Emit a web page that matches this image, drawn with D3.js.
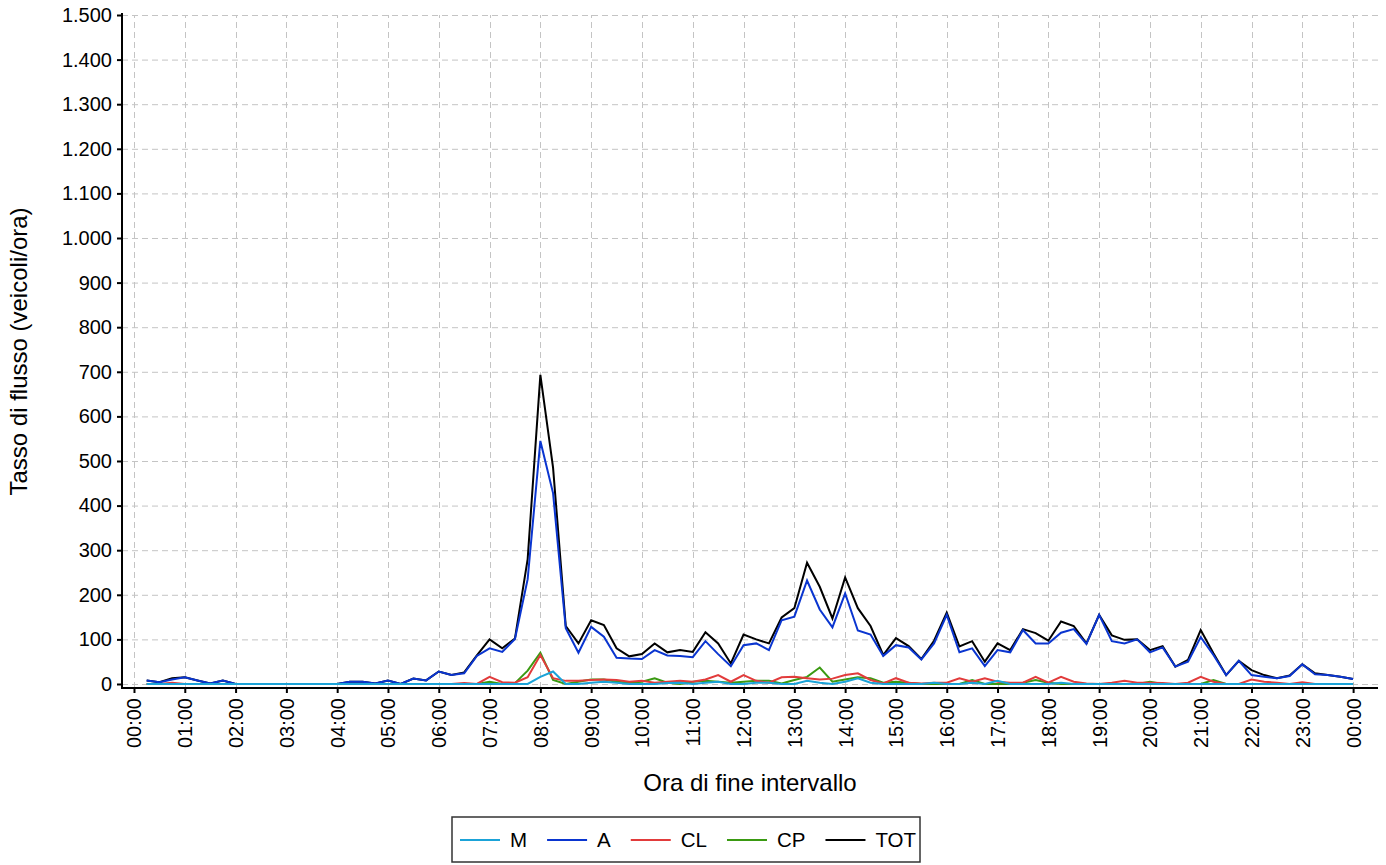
<!DOCTYPE html>
<html><head><meta charset="utf-8">
<script src="https://cdn.jsdelivr.net/npm/d3@7"></script>
<style>body{margin:0;background:#fff;} text{font-family:"Liberation Sans",Arial,sans-serif;fill:#000;}</style>
</head><body><svg id="c" width="1386" height="865"></svg>
<script>
// Interval end times (15-minute intervals)
const times = ["00:15","00:30","00:45","01:00","01:15","01:30","01:45","02:00","02:15","02:30","02:45","03:00",
"03:15","03:30","03:45","04:00","04:15","04:30","04:45","05:00","05:15","05:30","05:45","06:00",
"06:15","06:30","06:45","07:00","07:15","07:30","07:45","08:00","08:15","08:30","08:45","09:00",
"09:15","09:30","09:45","10:00","10:15","10:30","10:45","11:00","11:15","11:30","11:45","12:00",
"12:15","12:30","12:45","13:00","13:15","13:30","13:45","14:00","14:15","14:30","14:45","15:00",
"15:15","15:30","15:45","16:00","16:15","16:30","16:45","17:00","17:15","17:30","17:45","18:00",
"18:15","18:30","18:45","19:00","19:15","19:30","19:45","20:00","20:15","20:30","20:45","21:00",
"21:15","21:30","21:45","22:00","22:15","22:30","22:45","23:00","23:15","23:30","23:45","00:00"];

const M = [0,0,0,0,0,0,0,0,0,0,0,0, 0,0,0,0,0,0,0,0,0,0,0,0,
0,0,0,0,0,0,0,16,28,0,0,3, 5,3,0,0,0,2,3,0,3,5,0,0,
3,3,0,0,7,3,0,5,13,3,0,0, 0,0,3,0,0,3,0,7,0,0,0,0,
3,0,0,0,0,0,0,0,0,0,0,0, 0,0,0,0,0,0,0,0,0,0,0,0];

const A = [8,4,10,15,8,1,8,0,0,0,0,0, 0,0,0,0,5,5,1,8,0,12,8,28,
20,24,63,80,72,101,235,545,428,125,70,128, 106,59,57,56,76,64,63,60,96,67,40,87,
91,76,143,151,232,167,127,203,120,111,63,87, 82,55,91,155,71,80,40,76,71,121,91,91,
115,123,90,155,96,91,100,71,82,39,50,105, 65,20,52,20,16,13,18,44,22,20,16,11];

const CL = [0,0,3,0,0,0,0,0,0,0,0,0, 0,0,0,0,0,0,0,0,0,0,0,0,
0,2,0,16,4,3,15,65,13,7,7,9, 10,9,5,7,3,5,7,5,10,20,5,20,
7,3,15,16,13,10,12,20,24,9,1,13, 3,1,3,3,13,5,13,5,3,3,16,3,
16,5,1,0,3,7,3,3,2,0,3,16, 5,0,0,10,5,3,0,4,0,0,0,0];

const CP = [0,0,0,0,0,0,0,0,0,0,0,0, 0,0,0,0,0,0,0,0,0,0,0,0,
0,0,0,5,0,2,30,70,9,0,5,10, 10,5,3,5,13,3,0,5,7,5,3,5,
7,7,1,9,16,37,5,10,15,13,3,5, 3,0,0,0,0,9,0,0,0,3,9,3,
0,0,0,0,0,0,0,5,0,0,0,0, 9,0,0,0,0,0,0,0,0,0,0,0];

const TOT = [8,4,13,15,8,1,8,0,0,0,0,0, 0,0,0,0,5,5,1,8,0,12,8,28,
20,26,64,100,80,102,280,693,485,130,91,143, 132,80,62,67,91,71,76,72,116,91,46,111,
100,91,149,170,272,218,147,239,170,130,65,103, 85,56,97,160,84,96,50,91,76,123,114,97,
140,130,91,155,109,99,100,76,85,39,54,121, 69,20,52,31,20,13,19,44,24,20,16,11];

const xTickLabels = ["00:00","01:00","02:00","03:00","04:00","05:00","06:00","07:00","08:00","09:00","10:00","11:00",
"12:00","13:00","14:00","15:00","16:00","17:00","18:00","19:00","20:00","21:00","22:00","23:00","00:00"];
const yTickValues = [0,100,200,300,400,500,600,700,800,900,1000,1100,1200,1300,1400,1500];

const seriesNames = ["M","A","CL","CP","TOT"];
const seriesData = {M, A, CL, CP, TOT};
const colors = {M:"#1ba3d8", A:"#0a35d0", CL:"#e23b3b", CP:"#3a9a12", TOT:"#000000"};

const svg = d3.select("#c");
const L = 122, R = 1378, T = 15, B = 688;

const toHours = (s, i, n) => { const [h,m] = s.split(":").map(Number); let v = h + m/60; if (i === n-1 && v === 0) v = 24; return v; };
const xVals = times.map((t,i)=>toHours(t,i,times.length));
const tickHours = xTickLabels.map((t,i)=>toHours(t,i,xTickLabels.length));

const x = d3.scaleLinear().domain([-0.236, 24.49]).range([L, R]);
const y = d3.scaleLinear().domain([-9, 1500]).range([B, T]);

const loc = d3.formatLocale({decimal:",", thousands:".", grouping:[3], currency:["","€"]});
const fmt = loc.format(",d");

// grid
const grid = svg.append("g").attr("stroke","#c4c4c4").attr("stroke-width",1).attr("stroke-dasharray","6,4");
grid.selectAll("line.h").data(yTickValues).join("line")
  .attr("x1",L).attr("x2",R).attr("y1",d=>y(d)+0.5).attr("y2",d=>y(d)+0.5);
grid.selectAll("line.v").data(tickHours).join("line")
  .attr("y1",B).attr("y2",T).attr("x1",d=>Math.round(x(d))+0.5).attr("x2",d=>Math.round(x(d))+0.5);

// series lines (reverse order so M on top)
const line = d3.line().x((d,i)=>x(xVals[i])).y(d=>y(d));
[...seriesNames].reverse().forEach(n=>{
  svg.append("path").datum(seriesData[n]).attr("d",line)
    .attr("fill","none").attr("stroke",colors[n]).attr("stroke-width",2).attr("stroke-linejoin","miter");
});

// axes
const yAxis = d3.axisLeft(y).tickValues(yTickValues).tickFormat(fmt).tickSize(5).tickPadding(5);
const gy = svg.append("g").attr("transform",`translate(${L},0)`).call(yAxis);
gy.select(".domain").remove();
gy.selectAll(".tick line").attr("stroke","#000").attr("stroke-width",2);
gy.selectAll(".tick text").attr("font-size",20).attr("font-family","Liberation Sans, Arial, sans-serif");

const xAxis = d3.axisBottom(x).tickValues(tickHours).tickFormat((d,i)=>xTickLabels[i]).tickSize(5);
const gx = svg.append("g").attr("transform",`translate(0,${B})`).call(xAxis);
gx.select(".domain").remove();
gx.selectAll(".tick line").attr("stroke","#000").attr("stroke-width",2);
gx.selectAll(".tick text").attr("font-size",20).attr("font-family","Liberation Sans, Arial, sans-serif")
  .attr("transform","rotate(-90)").attr("text-anchor","end").attr("x",-10).attr("y",0).attr("dy","0.35em");

svg.append("line").attr("x1",L).attr("x2",L).attr("y1",T-2).attr("y2",B+1).attr("stroke","#000").attr("stroke-width",2);
svg.append("line").attr("x1",L-1).attr("x2",R).attr("y1",B).attr("y2",B).attr("stroke","#000").attr("stroke-width",2);

// axis titles
svg.append("text").attr("transform",`translate(27,${(T+B)/2}) rotate(-90)`).attr("text-anchor","middle")
  .attr("font-size",24).text("Tasso di flusso (veicoli/ora)");
svg.append("text").attr("x",(L+R)/2).attr("y",791).attr("text-anchor","middle")
  .attr("font-size",24).text("Ora di fine intervallo");

// legend
const lg = svg.append("g");
lg.append("rect").attr("x",452).attr("y",817).attr("width",468).attr("height",45)
  .attr("fill","#fff").attr("stroke","#333").attr("stroke-width",1.5);
let cx = 460;
seriesNames.forEach(n=>{
  lg.append("line").attr("x1",cx).attr("x2",cx+40).attr("y1",840).attr("y2",840).attr("stroke",colors[n]).attr("stroke-width",2);
  const t = lg.append("text").attr("x",cx+50).attr("y",840).attr("dy","0.35em").attr("font-size",20.5).text(n);
  cx += 50 + t.node().getComputedTextLength() + 20;
});
</script></body></html>
